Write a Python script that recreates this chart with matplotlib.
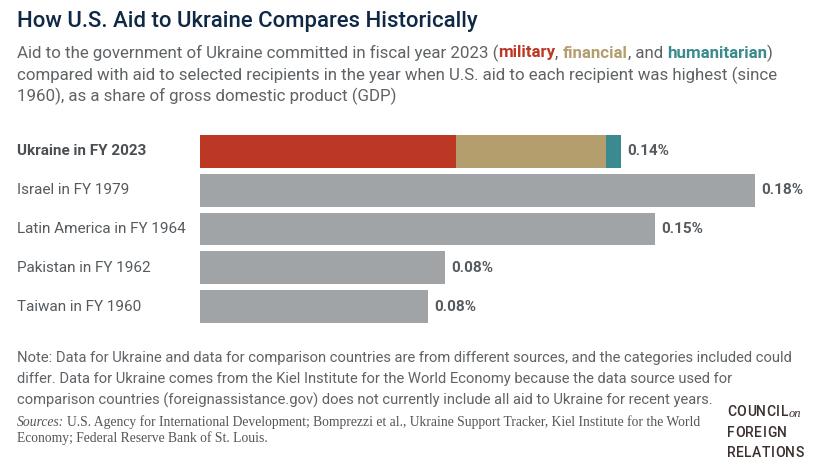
import matplotlib
matplotlib.use("Agg")
import matplotlib.pyplot as plt

# data (share of GDP, %)
labels = ["Ukraine in FY 2023", "Israel in FY 1979", "Latin America in FY 1964",
          "Pakistan in FY 1962", "Taiwan in FY 1960"]
ukraine_military = 0.083
ukraine_financial = 0.0487
ukraine_humanitarian = 0.0049
others = [0.18, 0.1476, 0.0795, 0.0740]
value_labels = ["0.14%", "0.18%", "0.15%", "0.08%", "0.08%"]

RED = "#BC3825"
TAN = "#B59E6D"
TEAL = "#3A8A90"
GRAY = "#A0A4A7"
NAVY = "#0F2846"
TXT = "#5F6366"
LBL = "#555A5E"
LOGO = "#3B302D"

FONT = "Roboto"
W, H = 837, 466
fig = plt.figure(figsize=(W / 100, H / 100), dpi=100)
fig.patch.set_facecolor("white")


def fx(px):
    return px / W


def fy(py):
    return 1 - py / H


renderer = fig.canvas.get_renderer()


def text_width(s, **kw):
    # measure with a guard char so trailing spaces count
    t = fig.text(0, 0, s + "|", **kw)
    t2 = fig.text(0, 0, "|", **kw)
    w = t.get_window_extent(renderer).width - t2.get_window_extent(renderer).width
    t.remove()
    t2.remove()
    return w


def rich_line(x_px, y_px, pieces, size):
    x = x_px
    for s, color, weight in pieces:
        kw = dict(fontsize=size, family=FONT, fontweight=weight)
        fig.text(fx(x), fy(y_px), s, color=color, va="center", ha="left", **kw)
        x += text_width(s, **kw)


def spaced(x_px, y_px, s, track, **kw):
    x = x_px
    for ch in s:
        fig.text(fx(x), fy(y_px), ch, va="center", ha="left", **kw)
        x += text_width(ch, **kw) + track
    return x


# title and subtitle
fig.text(fx(17), fy(21), "How U.S. Aid to Ukraine Compares Historically",
         fontsize=15.9, family=FONT, fontweight="medium", color=NAVY, va="center")
sub_size = 12.2
rich_line(17, 53, [
    ("Aid to the government of Ukraine committed in fiscal year 2023 (", TXT, "normal"),
    ("military", RED, "bold"),
    (", ", TXT, "normal"),
    ("financial", TAN, "bold"),
    (", and ", TXT, "normal"),
    ("humanitarian", TEAL, "bold"),
    (")", TXT, "normal"),
], sub_size)
fig.text(fx(17), fy(75), "compared with aid to selected recipients in the year when U.S. aid to each recipient was highest (since",
         fontsize=sub_size, family=FONT, color=TXT, va="center")
fig.text(fx(17), fy(96), "1960), as a share of gross domestic product (GDP)",
         fontsize=sub_size, family=FONT, color=TXT, va="center")

# bars
ax = fig.add_axes([fx(200), fy(323), fx(755) - fx(200), fy(135) - fy(323)])
ys = list(range(len(labels)))
hgt = 0.85
ax.barh(0, ukraine_military, height=hgt, color=RED)
ax.barh(0, ukraine_financial, left=ukraine_military, height=hgt, color=TAN)
ax.barh(0, ukraine_humanitarian, left=ukraine_military + ukraine_financial,
        height=hgt, color=TEAL)
ax.barh(ys[1:], others, height=hgt, color=GRAY)
ax.set_xlim(0, 0.18)
ax.set_ylim(4 + hgt / 2, -hgt / 2)
ax.axis("off")

totals = [ukraine_military + ukraine_financial + ukraine_humanitarian] + others
for y, v, lab in zip(ys, totals, value_labels):
    ax.annotate(lab, (v, y), xytext=(4.5, 0), textcoords="offset points",
                va="center", ha="left", fontsize=11, family=FONT,
                fontweight="bold", color=LBL, annotation_clip=False)

for i, lab in enumerate(labels):
    y_data = ax.transData.transform((0, i))[1]
    fig.text(fx(17), y_data / H, lab, fontsize=11, family=FONT, va="center",
             color="#4A4F53" if i == 0 else LBL,
             fontweight="bold" if i == 0 else "normal")

# note
note_lines = [
    "Note: Data for Ukraine and data for comparison countries are from different sources, and the categories included could",
    "differ. Data for Ukraine comes from the Kiel Institute for the World Economy because the data source used for",
    "comparison countries (foreignassistance.gov) does not currently include all aid to Ukraine for recent years.",
]
for i, line in enumerate(note_lines):
    fig.text(fx(17), fy(358 + i * 21), line, fontsize=10.6, family=FONT,
             color=TXT, va="center")

# sources
src_kw = dict(fontsize=9.8, family="Liberation Serif", color="#555", va="center")
t = fig.text(fx(17), fy(422), "Sources:", style="italic", **src_kw)
sw = t.get_window_extent(renderer).width
fig.text(fx(17 + sw + 3), fy(422),
         "U.S. Agency for International Development; Bomprezzi et al., Ukraine Support Tracker, Kiel Institute for the World",
         **src_kw)
fig.text(fx(17), fy(438), "Economy; Federal Reserve Bank of St. Louis.", **src_kw)

# logo
logo_kw = dict(fontsize=10, family=FONT, color=LOGO, fontweight="medium")
end = spaced(727, 412, "COUNCIL", 0.5, **logo_kw)
fig.text(fx(end), fy(414), "on", fontsize=9, family="Liberation Serif",
         style="italic", color=LOGO, va="center")
spaced(727, 433, "FOREIGN", 0.5, **logo_kw)
spaced(727, 453, "RELATIONS", 0.5, **logo_kw)

fig.savefig("out.png", dpi=100)
